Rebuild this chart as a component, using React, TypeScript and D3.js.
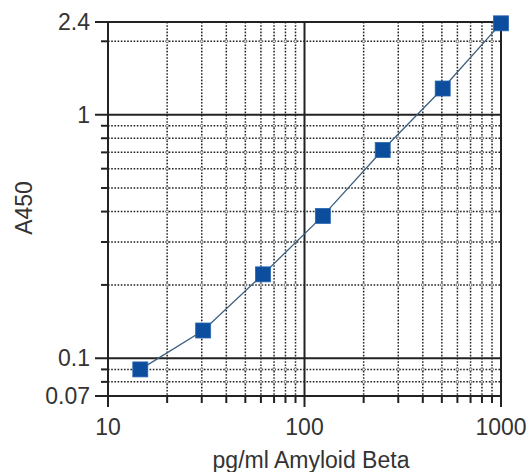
import * as d3 from "d3";
import React from "react";

// standard curve
const concentrations = [14.6, 30.5, 61.5, 124, 250, 505, 1000];
const absorbance = [0.09, 0.13, 0.221, 0.384, 0.716, 1.28, 2.37];

const xTickLabels = [10, 100, 1000];
const yTickLabels = [0.07, 0.1, 1, 2.4];
const xMinorGrid = [20, 30, 40, 50, 60, 70, 80, 90, 200, 300, 400, 500, 600, 700, 800, 900];
const yMinorGrid = [0.08, 0.09, 0.2, 0.3, 0.4, 0.5, 0.6, 0.7, 0.8, 0.9, 2];

const xTitle = "pg/ml Amyloid Beta";
const yTitle = "A450";

export default function App() {
    const width = 531;
    const height = 472;
    const left = 108;
    const right = 501;
    const top = 22;
    const bottom = 396;

    const x = d3.scaleLog().domain([10, 1000]).range([left, right]);
    const y = d3.scaleLog().domain([0.07, 2.4]).range([bottom, top]);

    const points = concentrations.map((c, i) => [x(c), y(absorbance[i])] as [number, number]);
    const line = d3.line()(points) || "";

    const font = "'Liberation Sans', Arial, sans-serif";
    const ink = "#222";
    const dots = "1.6 1.6";

    return (
        <div style={{ position: "absolute", left: 0, top: 0 }}>
            <svg width={width} height={height} style={{ display: "block", background: "#fff" }}>
                {/* dotted grid */}
                {xMinorGrid.map((v) => (
                    <line key={"gx" + v} x1={x(v)} x2={x(v)} y1={top} y2={bottom} stroke={ink} strokeWidth={1.5} strokeDasharray={dots} />
                ))}
                {yMinorGrid.map((v) => (
                    <line key={"gy" + v} x1={left} x2={right} y1={y(v)} y2={y(v)} stroke={ink} strokeWidth={1.5} strokeDasharray={dots} />
                ))}
                {/* little rings where dotted lines cross */}
                {xMinorGrid.map((vx) =>
                    yMinorGrid.map((vy) => (
                        <circle key={"c" + vx + "_" + vy} cx={x(vx)} cy={y(vy)} r={1.4} fill="#fff" stroke="#555" strokeWidth={0.8} />
                    ))
                )}

                {/* minor ticks */}
                {yMinorGrid.map((v) => (
                    <line key={"ty" + v} x1={101} x2={left} y1={y(v)} y2={y(v)} stroke={ink} strokeWidth={2} />
                ))}
                {xMinorGrid.map((v) => (
                    <line key={"tx" + v} x1={x(v)} x2={x(v)} y1={bottom} y2={403} stroke={ink} strokeWidth={2} />
                ))}

                {/* solid decade lines + major ticks */}
                {yTickLabels.map((v) => (
                    <line key={"my" + v} x1={95} x2={right} y1={y(v)} y2={y(v)} stroke={ink} strokeWidth={2} />
                ))}
                {xTickLabels.map((v) => (
                    <line key={"mx" + v} x1={x(v)} x2={x(v)} y1={top} y2={407} stroke={ink} strokeWidth={2} />
                ))}

                {/* tick labels */}
                {yTickLabels.map((v) => (
                    <text key={"ly" + v} x={90} y={y(v)} dy="0.35em" textAnchor="end" fontFamily={font} fontSize={23} fill="#333">
                        {v}
                    </text>
                ))}
                {xTickLabels.map((v) => (
                    <text key={"lx" + v} x={x(v)} y={435} textAnchor="middle" fontFamily={font} fontSize={23} fill="#333">
                        {v}
                    </text>
                ))}

                {/* series */}
                <path d={line} fill="none" stroke="#3b5f7e" strokeWidth={1.3} />
                {points.map(([px, py], i) => (
                    <rect key={"p" + i} x={px - 7.5} y={py - 7.5} width={15} height={15} fill="#0c4d9e" stroke="#2a66b0" strokeWidth={0.8} />
                ))}

                {/* axis titles */}
                <text x={311} y={468} textAnchor="middle" fontFamily={font} fontSize={23} fill="#333">
                    {xTitle}
                </text>
                <text transform="translate(32, 208) rotate(-90)" textAnchor="middle" fontFamily={font} fontSize={23} fill="#333">
                    {yTitle}
                </text>
            </svg>
        </div>
    );
}
